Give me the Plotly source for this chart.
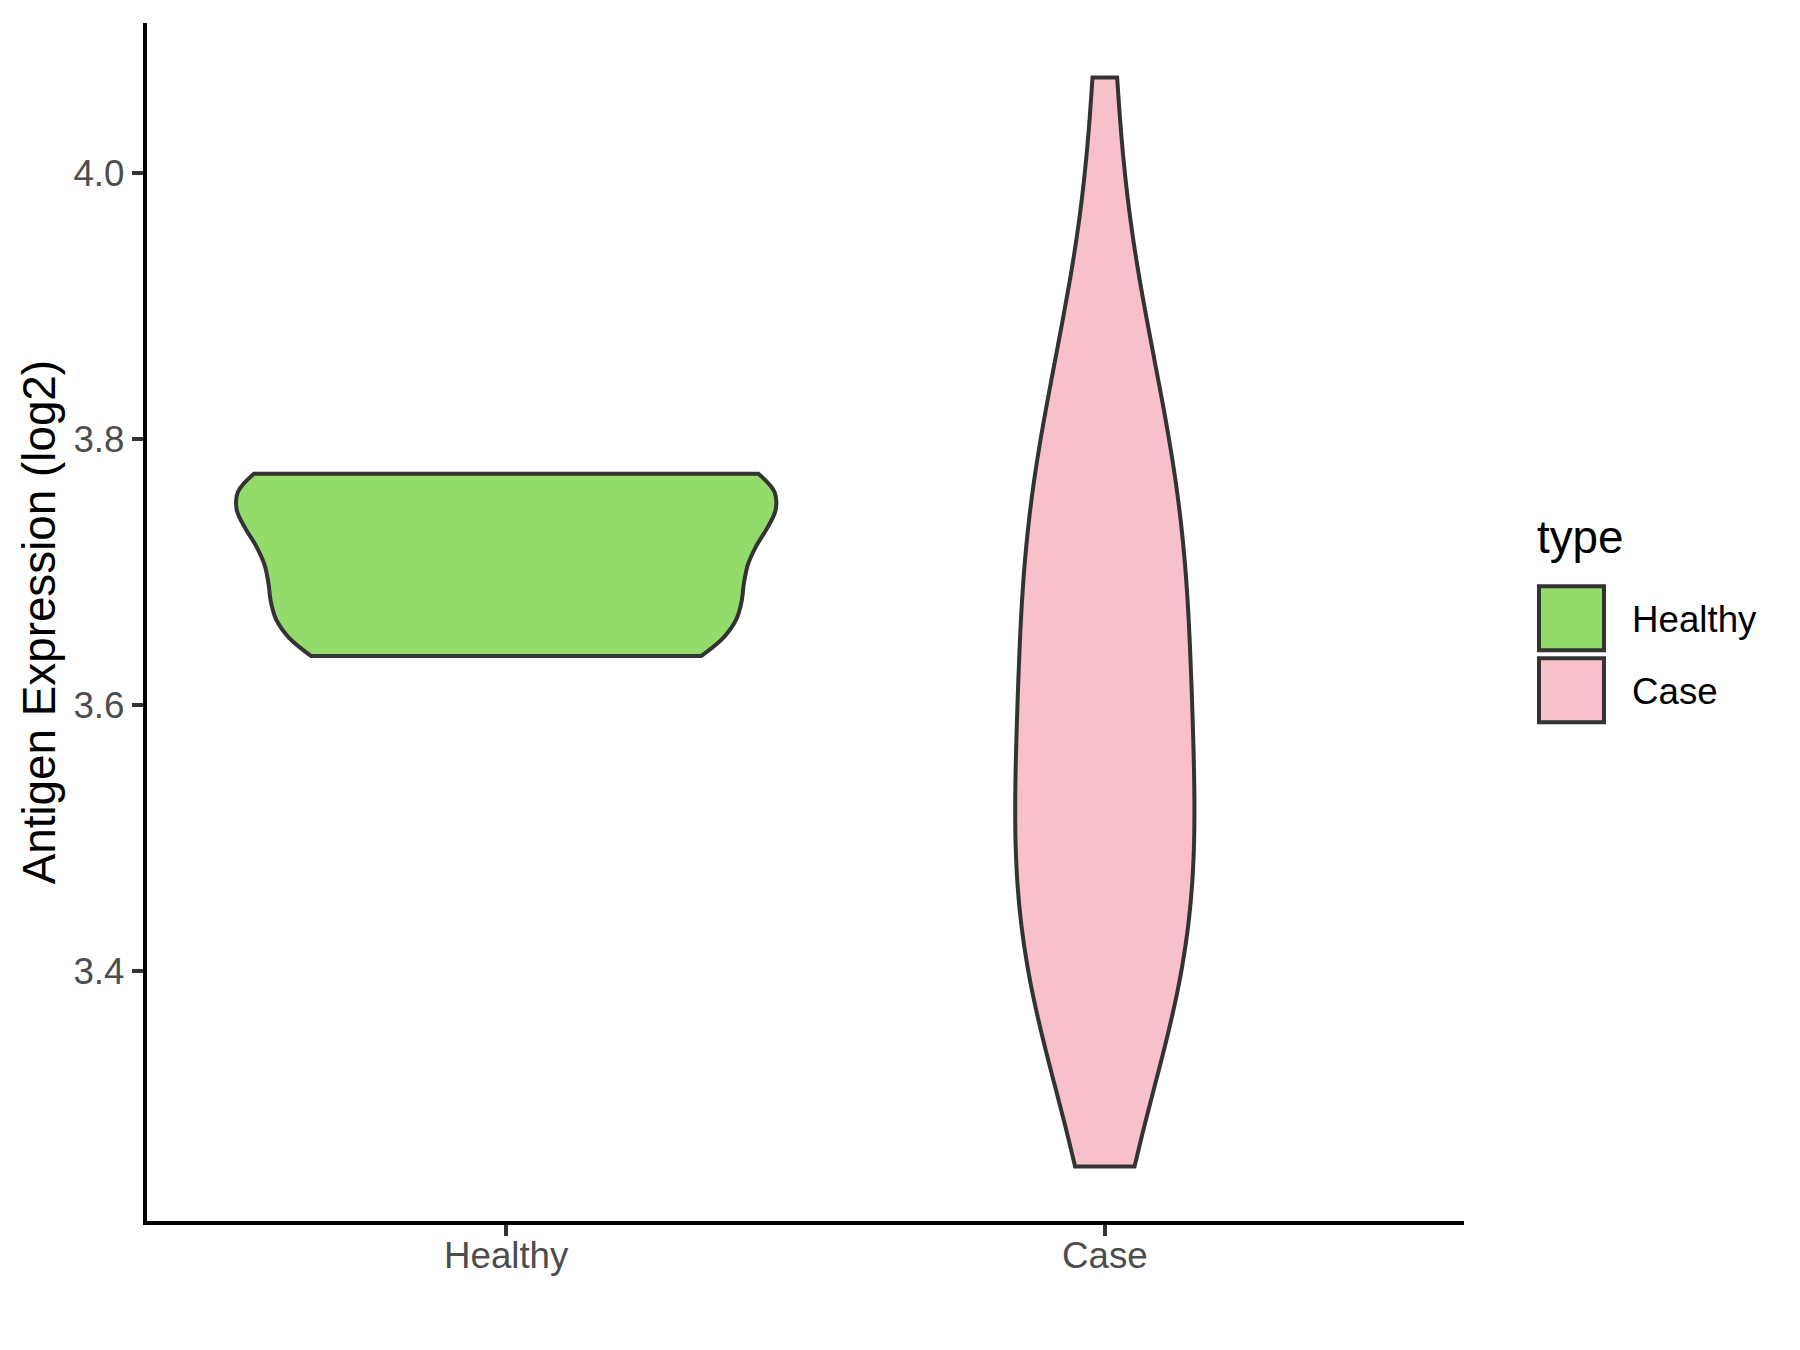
import numpy as np
import plotly.graph_objects as go

# ---------------- data ----------------
categories = ["Healthy", "Case"]
healthy_values = [3.637, 3.684, 3.757, 3.774]
case_values = [3.253, 3.319, 3.345, 3.368, 3.389, 3.409, 3.429, 3.447, 3.465, 3.483,
               3.501, 3.520, 3.539, 3.558, 3.579, 3.601, 3.623, 3.645, 3.665, 3.685,
               3.705, 3.725, 3.746, 3.768, 3.791, 3.816, 3.850, 3.891, 3.940, 4.072]
fill_colors = ["#93DB6B", "#F7C0CB"]
y_ticks = [3.4, 3.6, 3.8, 4.0]
y_tick_labels = ["3.4", "3.6", "3.8", "4.0"]
legend_title = "type"
y_title = "Antigen Expression (log2)"

# ---------------- layout constants ----------------
OFF = 8                     # default page body margin
W, H = 1800 - 2 * OFF, 1350 - 2 * OFF
PL, PR, PT, PB = 146.7, 1464, 23, 1220.7   # plot area in screen pixels
ML, MT = PL - OFF, PT - OFF
MR, MB = W - (PR - OFF), H - (PB - OFF)
FONT = "Liberation Sans, Arial, sans-serif"
OUTLINE = "#333333"


def bw_nrd0(v):
    v = np.asarray(v, dtype=float)
    sd = v.std(ddof=1)
    q75, q25 = np.percentile(v, [75, 25])
    lo = min(sd, (q75 - q25) / 1.34)
    return 0.9 * lo * len(v) ** -0.2


def kde_max(v, bw):
    v = np.asarray(v, dtype=float)
    grid = np.linspace(v.min(), v.max(), 512)
    dens = np.exp(-0.5 * ((grid[:, None] - v[None, :]) / bw) ** 2).sum(axis=1)
    return (dens / (len(v) * bw * np.sqrt(2 * np.pi))).max()


series = [healthy_values, case_values]
bws = [bw_nrd0(s) for s in series]
kmax = [kde_max(s, b) for s, b in zip(series, bws)]
widths = [0.9 * k / max(kmax) for k in kmax]   # ggplot scale="area"

fig = go.Figure()
for name, vals, col, bw, wd in zip(categories, series, fill_colors, bws, widths):
    fig.add_trace(go.Violin(
        x=[name] * len(vals), y=vals, name=name,
        fillcolor=col, line=dict(color=OUTLINE, width=4),
        points=False, box_visible=False, meanline_visible=False,
        spanmode="hard", bandwidth=bw,
        scalegroup=name, scalemode="width", width=wd,
        showlegend=False, hoverinfo="skip", opacity=1,
    ))

all_vals = np.concatenate([np.asarray(s) for s in series])
lo, hi = all_vals.min(), all_vals.max()
pad = (hi - lo) * 0.05

fig.update_layout(
    width=W, height=H,
    margin=dict(l=ML, r=MR, t=MT, b=MB, pad=0),
    paper_bgcolor="white", plot_bgcolor="white",
    violinmode="overlay",
    font=dict(family=FONT),
    showlegend=False,
    xaxis=dict(
        type="category", categoryorder="array", categoryarray=categories,
        range=[-0.6, 1.6], showgrid=False, zeroline=False,
        showline=True, linecolor="black", linewidth=4.4,
        ticks="outside", ticklen=11, tickwidth=4, tickcolor=OUTLINE,
        tickfont=dict(size=36.7, color="#4D4D4D", family=FONT),
        ticklabelstandoff=-12,
        fixedrange=True, automargin=False,
    ),
    yaxis=dict(
        range=[lo - pad, hi + pad], showgrid=False, zeroline=False,
        showline=True, linecolor="black", linewidth=4.4,
        ticks="outside", ticklen=11, tickwidth=4, tickcolor=OUTLINE,
        tickvals=y_ticks, ticktext=y_tick_labels,
        tickfont=dict(size=36.7, color="#4D4D4D", family=FONT),
        fixedrange=True, automargin=False,
    ),
)

# ---------------- helpers for pixel placement (screen coords) ----------------
def px_x(x):
    return (x - PL) / (PR - PL)


def px_y(y):
    return (PB - y) / (PB - PT)


# y axis title
fig.add_annotation(
    text=y_title, xref="paper", yref="paper", x=px_x(39), y=0.5,
    xanchor="center", yanchor="middle", textangle=-90, showarrow=False,
    font=dict(size=45.8, color="black", family=FONT),
)

# legend (ggplot-style guide)
fig.add_annotation(
    text=legend_title, xref="paper", yref="paper", x=px_x(1535), y=px_y(537),
    xanchor="left", yanchor="middle", showarrow=False,
    font=dict(size=45.8, color="black", family=FONT),
)
key_tops = [584, 656]
for name, col, top in zip(categories, fill_colors, key_tops):
    fig.add_shape(
        type="rect", xref="paper", yref="paper",
        x0=px_x(1539), x1=px_x(1604), y0=px_y(top + 2), y1=px_y(top + 66),
        fillcolor=col, line=dict(color=OUTLINE, width=4), layer="above",
    )
    fig.add_annotation(
        text=name, xref="paper", yref="paper", x=px_x(1630), y=px_y(top + 35),
        xanchor="left", yanchor="middle", showarrow=False,
        font=dict(size=36.7, color="black", family=FONT),
    )

fig.write_html("out.html")
